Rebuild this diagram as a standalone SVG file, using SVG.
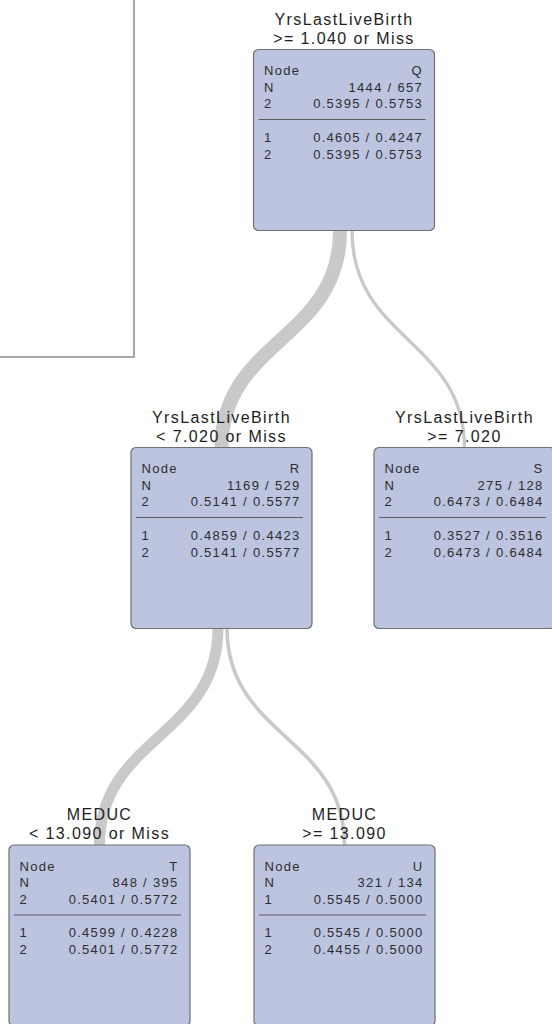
<svg xmlns="http://www.w3.org/2000/svg" width="552" height="1024" viewBox="0 0 552 1024">
  <style>
    .panel { fill: #ffffff; stroke: #a3a7ae; stroke-width: 2; }
    .box { fill: #bcc4e0; stroke: #6f7070; stroke-width: 1.2; }
    .sep { stroke: #5e5e5e; stroke-width: 1; }
    .lbl { font-family: "Liberation Sans", Arial, sans-serif; font-size: 16px; letter-spacing: 1.4px; fill: #1e1e1e; text-anchor: middle; }
    .t { font-family: "Liberation Sans", Arial, sans-serif; font-size: 13px; letter-spacing: 1.3px; fill: #2e2e2e; }
    .r { text-anchor: end; }
    .link { fill: none; stroke: #c9c9c9; stroke-linecap: butt; }
  </style>

  <!-- legend / overview panel, clipped at the top-left corner -->
  <rect class="panel" x="-5" y="-5" width="139" height="362"/>

  <!-- branches: width follows the share of observations -->
  <g id="connectors">
    <path class="link" stroke-width="14" d="M340,231 C340,340 221.5,340 221.5,448"/>
    <path class="link" stroke-width="3.3" d="M352,231 C352,340 464.5,340 464.5,448"/>
    <path class="link" stroke-width="11" d="M218,628 C218,737 99.5,737 99.5,845"/>
    <path class="link" stroke-width="3.6" d="M227,628 C227,737 344.5,737 344.5,845"/>
  </g>

  <!-- node Q -->
  <g id="node-Q" transform="translate(253.5,49.5)">
    <text class="lbl" x="90.5" y="-25">YrsLastLiveBirth</text>
    <text class="lbl" x="90.5" y="-6">&gt;= 1.040 or Miss</text>
    <rect class="box" x="0" y="0" width="181" height="181" rx="5"/>
    <text class="t" x="10.5" y="25.5">Node</text><text class="t r" x="169.5" y="25.5">Q</text>
    <text class="t" x="10.5" y="42">N</text><text class="t r" x="169.5" y="42">1444 / 657</text>
    <text class="t" x="10.5" y="58.5">2</text><text class="t r" x="169.5" y="58.5">0.5395 / 0.5753</text>
    <line class="sep" x1="5" y1="70" x2="172" y2="70"/>
    <text class="t" x="10.5" y="92">1</text><text class="t r" x="169.5" y="92">0.4605 / 0.4247</text>
    <text class="t" x="10.5" y="109">2</text><text class="t r" x="169.5" y="109">0.5395 / 0.5753</text>
  </g>

  <!-- node R -->
  <g id="node-R" transform="translate(131,447.5)">
    <text class="lbl" x="90.5" y="-25">YrsLastLiveBirth</text>
    <text class="lbl" x="90.5" y="-6">&lt; 7.020 or Miss</text>
    <rect class="box" x="0" y="0" width="181" height="181" rx="5"/>
    <text class="t" x="10.5" y="25.5">Node</text><text class="t r" x="169.5" y="25.5">R</text>
    <text class="t" x="10.5" y="42">N</text><text class="t r" x="169.5" y="42">1169 / 529</text>
    <text class="t" x="10.5" y="58.5">2</text><text class="t r" x="169.5" y="58.5">0.5141 / 0.5577</text>
    <line class="sep" x1="5" y1="70" x2="172" y2="70"/>
    <text class="t" x="10.5" y="92">1</text><text class="t r" x="169.5" y="92">0.4859 / 0.4423</text>
    <text class="t" x="10.5" y="109">2</text><text class="t r" x="169.5" y="109">0.5141 / 0.5577</text>
  </g>

  <!-- node S -->
  <g id="node-S" transform="translate(374,447.5)">
    <text class="lbl" x="90.5" y="-25">YrsLastLiveBirth</text>
    <text class="lbl" x="90.5" y="-6">&gt;= 7.020</text>
    <rect class="box" x="0" y="0" width="181" height="181" rx="5"/>
    <text class="t" x="10.5" y="25.5">Node</text><text class="t r" x="169.5" y="25.5">S</text>
    <text class="t" x="10.5" y="42">N</text><text class="t r" x="169.5" y="42">275 / 128</text>
    <text class="t" x="10.5" y="58.5">2</text><text class="t r" x="169.5" y="58.5">0.6473 / 0.6484</text>
    <line class="sep" x1="5" y1="70" x2="172" y2="70"/>
    <text class="t" x="10.5" y="92">1</text><text class="t r" x="169.5" y="92">0.3527 / 0.3516</text>
    <text class="t" x="10.5" y="109">2</text><text class="t r" x="169.5" y="109">0.6473 / 0.6484</text>
  </g>

  <!-- node T -->
  <g id="node-T" transform="translate(9,845)">
    <text class="lbl" x="90.5" y="-25">MEDUC</text>
    <text class="lbl" x="90.5" y="-6">&lt; 13.090 or Miss</text>
    <rect class="box" x="0" y="0" width="181" height="181" rx="5"/>
    <text class="t" x="10.5" y="25.5">Node</text><text class="t r" x="169.5" y="25.5">T</text>
    <text class="t" x="10.5" y="42">N</text><text class="t r" x="169.5" y="42">848 / 395</text>
    <text class="t" x="10.5" y="58.5">2</text><text class="t r" x="169.5" y="58.5">0.5401 / 0.5772</text>
    <line class="sep" x1="5" y1="70" x2="172" y2="70"/>
    <text class="t" x="10.5" y="92">1</text><text class="t r" x="169.5" y="92">0.4599 / 0.4228</text>
    <text class="t" x="10.5" y="109">2</text><text class="t r" x="169.5" y="109">0.5401 / 0.5772</text>
  </g>

  <!-- node U -->
  <g id="node-U" transform="translate(254,845)">
    <text class="lbl" x="90.5" y="-25">MEDUC</text>
    <text class="lbl" x="90.5" y="-6">&gt;= 13.090</text>
    <rect class="box" x="0" y="0" width="181" height="181" rx="5"/>
    <text class="t" x="10.5" y="25.5">Node</text><text class="t r" x="169.5" y="25.5">U</text>
    <text class="t" x="10.5" y="42">N</text><text class="t r" x="169.5" y="42">321 / 134</text>
    <text class="t" x="10.5" y="58.5">1</text><text class="t r" x="169.5" y="58.5">0.5545 / 0.5000</text>
    <line class="sep" x1="5" y1="70" x2="172" y2="70"/>
    <text class="t" x="10.5" y="92">1</text><text class="t r" x="169.5" y="92">0.5545 / 0.5000</text>
    <text class="t" x="10.5" y="109">2</text><text class="t r" x="169.5" y="109">0.4455 / 0.5000</text>
  </g>
</svg>
